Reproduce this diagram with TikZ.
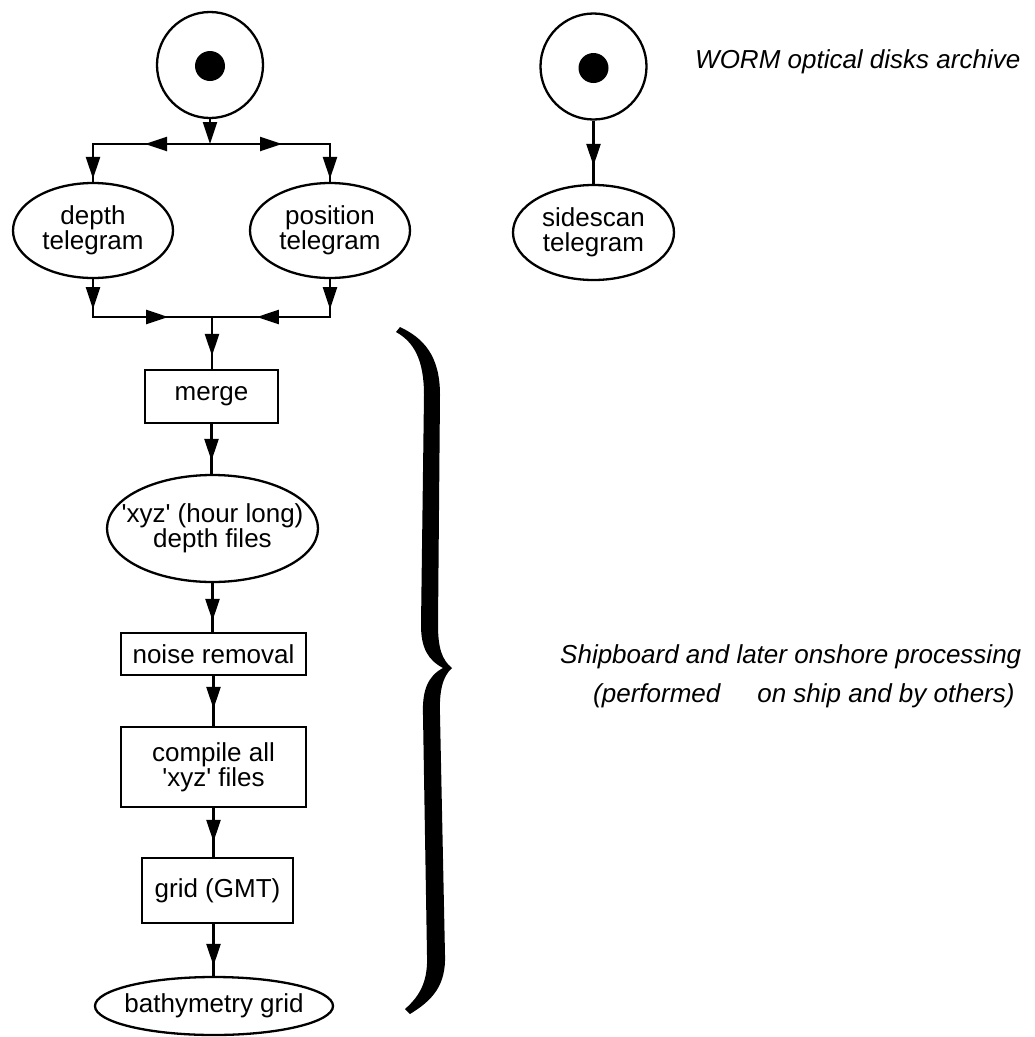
\documentclass[tikz,border=0pt]{standalone}
\usepackage{fontspec}
\setmainfont{Liberation Sans}
\usetikzlibrary{shapes.geometric,arrows.meta,decorations.markings}
\begin{document}
\begin{tikzpicture}[x=1pt,y=-1pt,
  >={Triangle[length=22pt,width=14pt]},
  conn/.style={line width=2.3pt},
  mk/.style={postaction={decorate},decoration={markings,mark=at position #1 with {\arrow{>}}}},
  mktwo/.style 2 args={postaction={decorate},decoration={markings,
      mark=at position #1 with {\arrow{>}},mark=at position #2 with {\arrow{>}}}},
  txt/.style={font=\fontsize{26}{25}\selectfont},
  box/.style={draw,line width=2.3pt,rectangle,inner sep=0pt,align=center,txt},
  oval/.style={draw,line width=2.3pt,ellipse,inner sep=0pt},
  lbl/.style={txt,align=center,inner sep=0pt},
  disk/.style={circle,draw,line width=2.3pt,minimum size=106pt,inner sep=0pt},
  dot/.style={circle,fill,minimum size=30pt,inner sep=0pt},
  ann/.style={font=\fontsize{26}{39}\selectfont\itshape,inner sep=0pt}
]
\useasboundingbox (0,0) rectangle (1035,1037);

% left source
\node[disk] (c1) at (210,65) {};
\node[dot] (c1dot) at (210,66) {};
\coordinate (j1) at (210,144);
\node[oval,minimum width=160pt,minimum height=95pt,label={[lbl]center:{depth\\telegram}}] (depth) at (93,230.5) {};
\node[oval,minimum width=160pt,minimum height=95pt,label={[lbl]center:{position\\telegram}}] (position) at (330,230.5) {};
\coordinate (bj) at (212,317);

\node[box,minimum width=133pt,minimum height=53pt] (merge) at (211.5,396.5) {merge};
\node[oval,minimum width=211pt,minimum height=107pt,label={[lbl]center:{\textquotesingle xyz\textquotesingle\ (hour long)\\depth files}}] (xyz) at (212.5,528.5) {};
\node[box,minimum width=185pt,minimum height=42pt] (noise) at (213.5,654) {noise removal};
\node[box,minimum width=185pt,minimum height=80pt] (compile) at (213.5,767) {compile all\\\textquotesingle xyz\textquotesingle\ files};
\node[box,minimum width=151pt,minimum height=65pt] (grid) at (217.5,890.5) {grid (GMT)};
\node[oval,minimum width=238pt,minimum height=58pt,label={[lbl]center:{bathymetry grid}}] (bathy) at (214,1006) {};

% right source
\node[disk] (c2) at (593.5,66.5) {};
\node[dot] (c2dot) at (593.5,68) {};
\node[oval,minimum width=161pt,minimum height=95pt,label={[lbl]center:{sidescan\\telegram}}] (side) at (593.5,232.5) {};

% connectors
\draw[conn,->] (c1.south) -- (j1);
\draw[conn,mktwo={65pt}{-3pt}] (j1) -| (depth.north);
\draw[conn,mktwo={72pt}{-3pt}] (j1) -| (position.north);
\draw[conn,mktwo={30pt}{113pt}] (depth.south) |- (bj);
\draw[conn,mktwo={30pt}{111pt}] (position.south) |- (bj);
\draw[conn,mk={-13pt}] (bj) -- (bj |- merge.north);
\draw[conn,mk={-13pt}] (merge.south) -- (merge.south |- xyz.north);
\draw[conn,mk={-11pt}] (xyz.south) -- (xyz.south |- noise.north);
\draw[conn,mk={-17pt}] (noise.south) -- (noise.south |- compile.north);
\draw[conn,mk={-15pt}] (compile.south) -- (compile.south |- grid.north);
\draw[conn,mk={-10pt}] (grid.south -| compile.south) -- (compile.south |- bathy.north);
\draw[conn,mk={-18pt}] (c2.south) -- (side.north);

% brace
\fill (400,327) .. controls (423,338) and (440,355) .. (440,395)
  -- (438,625) .. controls (438,648) and (442,660) .. (452,668)
  .. controls (443,676) and (439,690) .. (440,715)
  -- (445,955) .. controls (446,985) and (433,1000) .. (410,1014)
  -- (405,1009) .. controls (421,995) and (428,980) .. (427,955)
  -- (423,715) .. controls (422,690) and (428,676) .. (443,668)
  .. controls (428,660) and (421,648) .. (421,625)
  -- (424,395) .. controls (424,360) and (414,342) .. (396,332) -- cycle;

% annotations
\node[ann,anchor=base west] (worm) at (695,68) {WORM optical disks archive};
\node[ann,anchor=base west] (ship1) at (560,663) {Shipboard and later onshore processing};
\node[ann,anchor=base west] (ship2) at (593,702) {(performed\hspace{37pt}on ship and by others)};
\end{tikzpicture}
\end{document}
